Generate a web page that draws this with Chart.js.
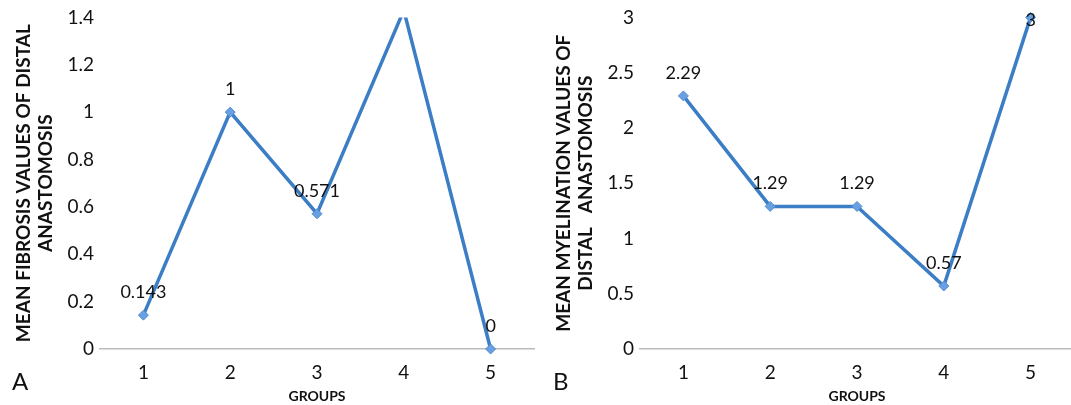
<!DOCTYPE html>
<html>
<head>
<meta charset="utf-8">
<script src="https://cdn.jsdelivr.net/npm/chart.js@4"></script>
<style>
  html, body { margin: 0; padding: 0; background: #fff; overflow: hidden; }
  body { width: 1071px; height: 405px; position: relative; }
  .box { position: absolute; top: 0; height: 405px; width: 540px; }
  .panel { position: absolute; font-family: Lato, "Open Sans", sans-serif; font-size: 24px; color: #111; }
</style>
</head>
<body>
<div class="box" style="left:0"><canvas id="fibChart"></canvas></div>
<div class="box" style="left:540px"><canvas id="myeChart"></canvas></div>
<div class="panel" style="left:12px; top:366px">A</div>
<div class="panel" style="left:553px; top:366px">B</div>
<script>
const groups = ["1", "2", "3", "4", "5"];
const fibrosisValues = [0.143, 1, 0.571, 1.43, 0];
const fibrosisLabels = ["0.143", "1", "0.571", "1.43", "0"];
const myelinationValues = [2.29, 1.29, 1.29, 0.57, 3];
const myelinationLabels = ["2.29", "1.29", "1.29", "0.57", "3"];

const lineColor = "rgb(60, 126, 198)";
const markerColor = "rgb(105, 160, 225)";
const fontFamily = "Lato, 'Open Sans', sans-serif";

// draws the value above each point
const valueLabels = {
  id: "valueLabels",
  afterDatasetsDraw(chart, args, opts) {
    const ctx = chart.ctx;
    const meta = chart.getDatasetMeta(0);
    ctx.save();
    ctx.font = "18px " + fontFamily;
    ctx.fillStyle = "#111";
    ctx.textAlign = "center";
    ctx.textBaseline = "middle";
    meta.data.forEach(function (pt, i) {
      let y = pt.y - 23;
      if (pt.y >= chart.chartArea.top - 1 && y < 20) y = 20;
      ctx.fillText(opts.texts[i], pt.x, y);
    });
    ctx.restore();
  },
};

function makeConfig(values, texts, yMax, yStep, titleLines, clip) {
  return {
    type: "line",
    data: {
      labels: groups,
      datasets: [
        {
          data: values,
          borderColor: lineColor,
          borderWidth: 3.5,
          backgroundColor: markerColor,
          pointStyle: "rectRot",
          pointRadius: 5,
          pointBorderColor: "rgb(80, 140, 210)",
          pointBorderWidth: 1,
          tension: 0,
          clip: clip,
        },
      ],
    },
    options: {
      responsive: true,
      maintainAspectRatio: false,
      animation: false,
      layout: { padding: { top: 12, right: 0, left: 12, bottom: 0 } },
      plugins: {
        legend: { display: false },
        tooltip: { enabled: false },
        valueLabels: { texts: texts },
      },
      scales: {
        x: {
          offset: true,
          grid: { display: false, drawTicks: false },
          border: { display: true, color: "#bbb", width: 1.5 },
          ticks: { color: "#111", font: { family: fontFamily, size: 19 }, padding: 12 },
          title: {
            display: true,
            text: "GROUPS",
            color: "#111",
            font: { family: fontFamily, size: 14, weight: "bold" },
            padding: { top: 0, bottom: 0 },
          },
          afterFit: function (scale) { scale.height = 56; },
        },
        y: {
          min: 0,
          max: yMax,
          grid: { display: false, drawTicks: false },
          border: { display: false },
          ticks: {
            stepSize: yStep,
            color: "#111",
            font: { family: fontFamily, size: 19 },
            padding: 6,
            callback: function (v) { return String(Number(v.toFixed(1))); },
          },
          title: {
            display: true,
            text: titleLines,
            color: "#111",
            font: { family: fontFamily, size: 19, weight: "bold", lineHeight: 1.2 },
            padding: { top: 0, bottom: 0 },
          },
          afterFit: function (scale) { scale.width = 88; },
        },
      },
    },
    plugins: [valueLabels],
  };
}

new Chart(
  document.getElementById("fibChart"),
  makeConfig(fibrosisValues, fibrosisLabels, 1.4, 0.2,
    ["MEAN FIBROSIS VALUES OF DISTAL", "ANASTOMOSIS"],
    { top: 0, left: 8, right: 8, bottom: 8 })
);

new Chart(
  document.getElementById("myeChart"),
  makeConfig(myelinationValues, myelinationLabels, 3, 0.5,
    ["MEAN MYELINATION VALUES OF", "DISTAL   ANASTOMOSIS"], 6)
);
</script>
</body>
</html>
